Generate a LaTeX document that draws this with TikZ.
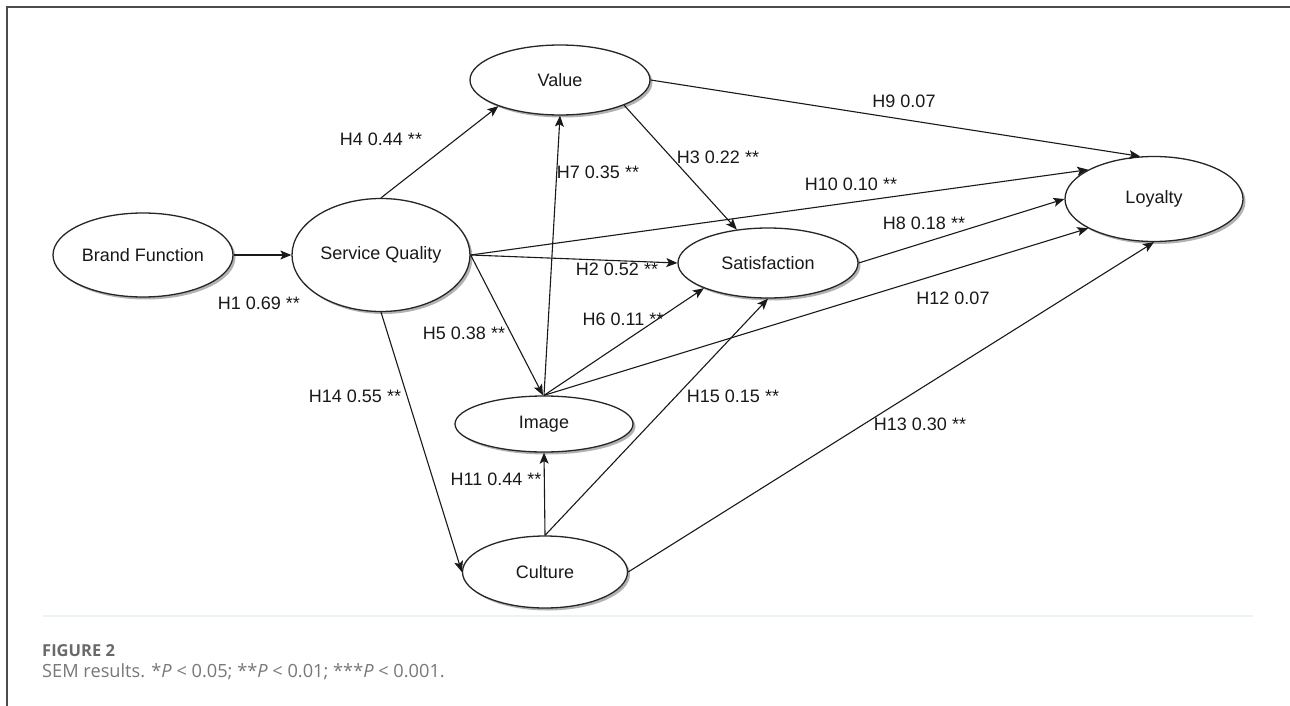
\documentclass[tikz,border=0pt]{standalone}
\usepackage{fontspec}
\setmainfont{Liberation Sans}
\newfontfamily\capfont{Open Sans}
\usetikzlibrary{shapes.geometric,arrows.meta,shadows}
\definecolor{sepline}{RGB}{236,243,243}
\definecolor{capgray}{RGB}{120,120,120}
\definecolor{figgray}{RGB}{105,105,105}
\begin{document}
\begin{tikzpicture}[x=1pt,y=-1pt,
  lat/.style={ellipse,draw=black!85,line width=1.3pt,fill=white,inner sep=0pt,
    font=\fontsize{18}{21}\selectfont,text=black!90,
    drop shadow={shadow xshift=2.5pt,shadow yshift=-2.5pt,fill=black,opacity=0.3}},
  conn/.style={-{Stealth[length=11pt,width=9pt,inset=2.5pt]},line width=1.1pt,draw=black!90},
  lbl/.style={font=\fontsize{18}{21}\selectfont,inner sep=0pt,text=black!90}
]
\useasboundingbox (0,0) rectangle (1290,706);
\fill[white] (0,0) rectangle (1290,706);
% frame
\draw[line width=1.3pt,black!70] (7,706) -- (7,7) -- (1290,7);
% separator
\draw[line width=1.5pt,sepline] (43,616) -- (1253,616);

% latent variables
\node[lat,minimum width=180pt,minimum height=84pt] (bf) at (143,255) {Brand Function};
\node[lat,minimum width=178pt,minimum height=113pt] (sq) at (381,255) {Service Quality};
\node[lat,minimum width=180pt,minimum height=70pt] (val) at (560,80) {Value};
\node[lat,minimum width=180pt,minimum height=70pt] (sat) at (768,263) {Satisfaction};
\node[lat,minimum width=178pt,minimum height=85pt] (loy) at (1154,199) {Loyalty};
\node[lat,minimum width=178pt,minimum height=56pt] (img) at (544,424) {Image};
\node[lat,minimum width=165pt,minimum height=72pt] (cul) at (545,572) {Culture};

% paths
\draw[conn] (bf.east) -- (sq.west);
\draw[conn] (sq.north) -- (val.203);
\draw[conn] (img.north) -- (val.south);
\draw[conn] (val.south east) -- (sat.133);
\draw[conn] (val.east) -- (loy.108);
\draw[conn] (sq.east) -- (loy.156);
\draw[conn] (sq.east) -- (sat.west);
\draw[conn] (sq.east) -- (img.92);
\draw[conn] (img.north) -- (sat.south west);
\draw[conn] (img.north) -- (loy.204);
\draw[conn] (sat.east) -- (loy.west);
\draw[conn] (cul.north) -- (img.south);
\draw[conn] (cul.north) -- (sat.south);
\draw[conn] (cul.east) -- (loy.south);
\draw[conn] (sq.south) -- (cul.west);

% labels
\node[lbl] (l1) at (259,303) {H1 0.69 **};
\node[lbl] (l4) at (381,139) {H4 0.44 **};
\node[lbl] (l7) at (598,172) {H7 0.35 **};
\node[lbl] (l3) at (718,157) {H3 0.22 **};
\node[lbl] (l9) at (904,101) {H9 0.07};
\node[lbl] (l10) at (851,184) {H10 0.10 **};
\node[lbl] (l2) at (617,269) {H2 0.52 **};
\node[lbl] (l8) at (924,223) {H8 0.18 **};
\node[lbl] (l5) at (464,333) {H5 0.38 **};
\node[lbl] (l6) at (623,319) {H6 0.11 **};
\node[lbl] (l12) at (953,298) {H12 0.07};
\node[lbl] (l14) at (355,396) {H14 0.55 **};
\node[lbl] (l15) at (733,396) {H15 0.15 **};
\node[lbl] (l11) at (496,479) {H11 0.44 **};
\node[lbl] (l13) at (920,424) {H13 0.30 **};

% caption
\node[anchor=west,inner sep=0pt,font=\capfont\bfseries\fontsize{16.5}{19}\selectfont,text=figgray] (fig) at (42,651) {FIGURE 2};
\node[anchor=west,inner sep=0pt,font=\capfont\fontsize{18.2}{21}\selectfont,text=capgray] (cap) at (42,672) {SEM results. *\textit{P} < 0.05; **\textit{P} < 0.01; ***\textit{P} < 0.001.};
\end{tikzpicture}
\end{document}
